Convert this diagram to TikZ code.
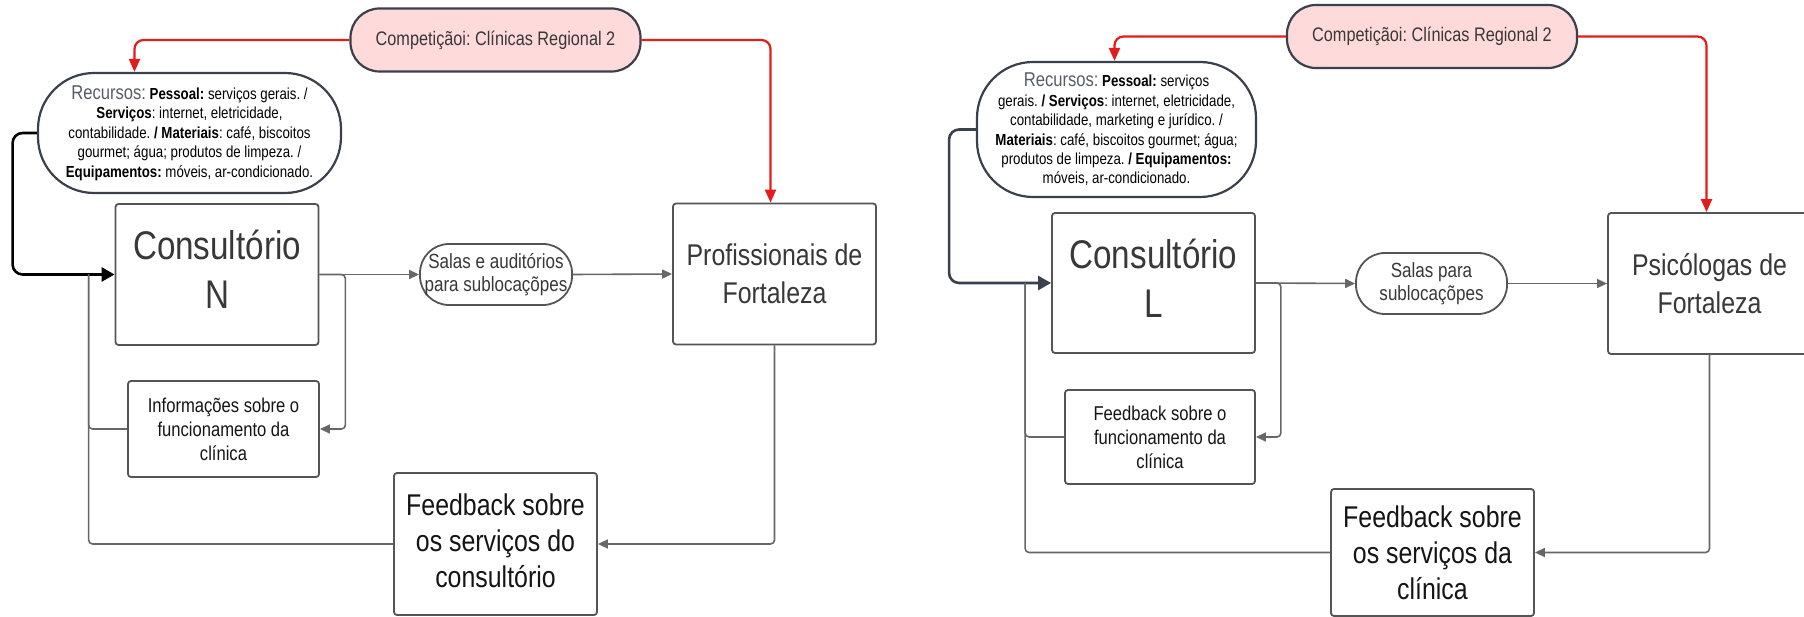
\documentclass[tikz,border=0pt]{standalone}
\usepackage{fontspec}
\setmainfont{Liberation Sans}[FakeStretch=0.83]
\usetikzlibrary{arrows.meta}
\frenchspacing

\definecolor{edgegray}{HTML}{676767}
\definecolor{boxline}{HTML}{555555}
\definecolor{softtxt}{HTML}{383838}
\definecolor{darktxt}{HTML}{151515}
\definecolor{compred}{HTML}{E51C1C}
\definecolor{compfill}{HTML}{FFDADA}
\definecolor{slate}{HTML}{3A404C}

\newcommand{\fsz}[2]{\fontsize{#1}{#2}\selectfont}
\newcommand{\rlabel}{{\color{slate!85}\fsz{20}{19.4}Recursos:}}
% centred block of lines lifted by #1
\newcommand{\liftlines}[2]{\raisebox{#1}{\begin{tabular}{@{}c@{}}#2\end{tabular}}}

\begin{document}
\begin{tikzpicture}[x=1pt,y=-1pt,
  box/.style={draw=boxline, line width=1.8pt, rounded corners=3pt, fill=white,
    align=center, inner sep=0pt},
  bigbox/.style={box, minimum width=203pt, minimum height=141pt},
  pill/.style={draw=slate, line width=2.2pt, rounded corners=29pt, fill=white,
    align=center, inner sep=0pt},
  compnode/.style={pill, fill=compfill, minimum width=290pt, minimum height=63pt,
    text=softtxt, font=\fsz{19.6}{24}},
  resnode/.style={draw=slate, line width=2.2pt, rounded corners=56pt, fill=white,
    align=center, inner sep=0pt, text=black, font=\fsz{16}{19.4}},
  flow/.style={draw=edgegray, line width=1.6pt, rounded corners=4pt},
  flowarrow/.style={flow, -{Triangle[length=10pt,width=9pt]}},
  redarrow/.style={draw=compred, line width=2.2pt, rounded corners=9pt,
    -{Triangle[length=13pt,width=11pt]}},
  blackarrow/.style={draw=black, line width=2.6pt, rounded corners=10pt,
    -{Triangle[length=13pt,width=14pt]}},
  slatearrow/.style={blackarrow, draw=slate}
]
\useasboundingbox (0,0) rectangle (1804,617);

% ---------------- Consultório N ----------------
\node[compnode] (compL) at (495.5,40) {Competiçãoi: Clínicas Regional 2};
\node[resnode, minimum width=303pt, minimum height=120pt] (recL) at (189.5,133)
  {\rlabel{} \textbf{Pessoal:} serviços gerais. /\\
   \textbf{Serviços}: internet, eletricidade,\\
   contabilidade. \textbf{/ Materiais}: café, biscoitos\\
   gourmet; água; produtos de limpeza. /\\
   \textbf{Equipamentos:} móveis, ar-condicionado.};
\node[bigbox, text=softtxt, font=\fsz{40}{49}] (consN)
  at (217,274.5) {\liftlines{7pt}{Consultório\\N}};
\node[pill, draw=boxline, line width=1.8pt, minimum width=152pt, minimum height=61pt,
  text=softtxt, font=\fsz{20.5}{23}] (salasL) at (496,274.5)
  {Salas e auditórios\\para sublocaçõpes};
\node[bigbox, text=softtxt, font=\fsz{30}{38}] (profL) at (774.5,274)
  {Profissionais de\\Fortaleza};
\node[box, minimum width=191pt, minimum height=96pt, text=darktxt,
  font=\fsz{20}{24}] (infoL) at (223.5,429)
  {Informações sobre o\\funcionamento da\\clínica};
\node[bigbox, minimum height=142pt, text=darktxt, font=\fsz{30}{36}] (fbL)
  at (495.5,544) {\liftlines{4pt}{Feedback sobre\\os serviços do\\consultório}};

\draw[redarrow] (compL.west) -| ([xshift=-55pt]recL.north);
\draw[redarrow] (compL.east) -| ([xshift=-4pt]profL.north);
\draw[blackarrow] (recL.west) -| ([xshift=-102pt]consN.west) -- (consN.west);
\draw[flowarrow] (consN.east) -- (salasL.west);
\draw[flowarrow] (salasL.east) -- (profL.west);
\draw[flowarrow] (consN.east) -- ([xshift=26pt]consN.east) |- (infoL.east);
\draw[flow] (infoL.west) -| ([xshift=-26pt]consN.west);
\draw[flowarrow] (profL.south) |- (fbL.east);
\draw[flow] (fbL.west) -| ([xshift=-26pt]consN.west);

% ---------------- Consultório L ----------------
\node[compnode] (compR) at (1432,36.5) {Competiçãoi: Clínicas Regional 2};
\node[resnode, minimum width=279pt, minimum height=135pt] (recR) at (1116.5,129.5)
  {\rlabel{} \textbf{Pessoal:} serviços\\
   gerais. \textbf{/ Serviços}: internet, eletricidade,\\
   contabilidade, marketing e jurídico. /\\
   \textbf{Materiais}: café, biscoitos gourmet; água;\\
   produtos de limpeza. \textbf{/ Equipamentos:}\\
   móveis, ar-condicionado.};
\node[bigbox, minimum height=140pt, text=softtxt, font=\fsz{40}{49}] (consL)
  at (1153.5,283) {\liftlines{7pt}{Consultório\\L}};
\node[pill, draw=boxline, line width=1.8pt, minimum width=151pt, minimum height=61pt,
  text=softtxt, font=\fsz{20.5}{23}] (salasR) at (1431.5,283.5)
  {Salas para\\sublocaçõpes};
\node[bigbox, text=softtxt, font=\fsz{30}{38}] (psiR) at (1709.5,283.5)
  {Psicólogas de\\Fortaleza};
\node[box, minimum width=190pt, minimum height=94pt, text=darktxt,
  font=\fsz{20}{24}] (fbR1) at (1160,437)
  {Feedback sobre o\\funcionamento da\\clínica};
\node[bigbox, minimum height=127pt, text=darktxt, font=\fsz{30}{36}] (fbR2)
  at (1432.5,552.5) {Feedback sobre\\os serviços da\\clínica};

\draw[redarrow] (compR.west) -| ([xshift=-2pt]recR.north);
\draw[redarrow] (compR.east) -| ([xshift=-3pt]psiR.north);
\draw[slatearrow] (recR.west) -| ([xshift=-102pt]consL.west) -- (consL.west);
\draw[flowarrow] (consL.east) -- (salasR.west);
\draw[flowarrow] (salasR.east) -- (psiR.west);
\draw[flowarrow] (consL.east) -- ([xshift=25pt]consL.east) |- (fbR1.east);
\draw[flow] (fbR1.west) -| ([xshift=-26pt]consL.west);
\draw[flowarrow] (psiR.south) |- (fbR2.east);
\draw[flow] (fbR2.west) -| ([xshift=-26pt]consL.west);
\end{tikzpicture}
\end{document}
